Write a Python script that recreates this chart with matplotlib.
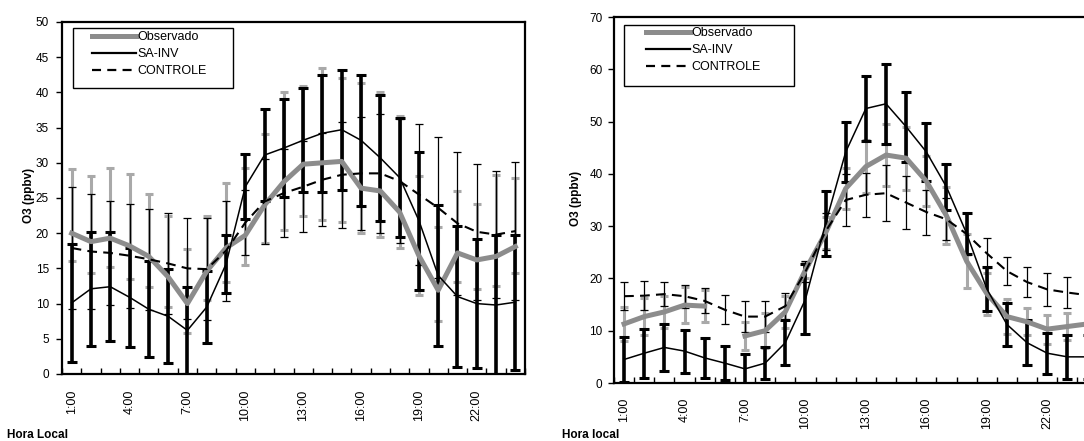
import numpy as np
import matplotlib
matplotlib.use("Agg")
import matplotlib.pyplot as plt
from matplotlib.lines import Line2D
from matplotlib.patches import Rectangle

plt.rcParams['font.family'] = ['Liberation Sans', 'DejaVu Sans']
plt.rcParams['lines.scale_dashes'] = False

# ---------------- data ----------------
hours = ["1:00", "2:00", "3:00", "4:00", "5:00", "6:00", "7:00", "8:00",
         "9:00", "10:00", "11:00", "12:00", "13:00", "14:00", "15:00", "16:00",
         "17:00", "18:00", "19:00", "20:00", "21:00", "22:00", "23:00", "24:00"]
shown_labels = ["1:00", "4:00", "7:00", "10:00", "13:00", "16:00", "19:00", "22:00"]
series_names = ["Observado", "SA-INV", "CONTROLE"]

# Left panel
obs_L = [20.0, 18.8, 19.3, 18.2, 16.7, 13.8, 10.0, 14.6, 17.9, 19.7, 24.0, 27.3,
         29.8, 30.0, 30.2, 26.4, 26.0, 23.0, 16.8, 11.9, 17.2, 16.2, 16.7, 18.1]
obs_lo_L = [16.0, 14.4, 15.2, 13.5, 12.4, 9.5, 5.8, 10.5, 13.1, 15.5, 18.6, 20.5,
            22.4, 21.9, 21.6, 20.0, 19.5, 17.9, 11.2, 7.5, 13.0, 12.1, 12.5, 14.3]
obs_hi_L = [29.1, 28.1, 29.3, 28.4, 25.6, 22.4, 17.8, 22.4, 27.1, 29.2, 34.1, 40.0,
            40.9, 43.4, 42.0, 41.4, 40.1, 36.6, 28.1, 20.9, 26.0, 24.2, 28.3, 27.9]
sa_L = [10.1, 12.1, 12.4, 10.9, 9.2, 8.2, 6.2, 9.5, 15.6, 26.6, 31.1, 32.1,
        33.2, 34.2, 34.7, 33.2, 30.7, 27.9, 21.8, 14.0, 11.0, 10.0, 9.8, 10.2]
sa_err_L = [8.4, 8.1, 7.7, 7.0, 6.8, 6.7, 6.2, 5.1, 4.1, 4.6, 6.5, 6.9,
            7.4, 8.3, 8.5, 9.3, 8.9, 8.5, 9.8, 10.0, 10.0, 9.2, 9.9, 9.6]
ctl_L = [17.9, 17.4, 17.2, 16.8, 16.3, 15.7, 15.0, 14.9, 17.5, 21.5, 24.5, 25.7,
         26.6, 27.6, 28.3, 28.5, 28.5, 27.4, 25.5, 23.6, 21.4, 20.2, 19.8, 20.3]
ctl_err_L = [8.7, 8.2, 7.4, 7.4, 7.2, 7.2, 7.2, 7.2, 7.1, 4.6, 6.0, 6.2,
             6.5, 6.6, 7.5, 8.0, 8.5, 8.8, 10.0, 10.0, 10.2, 9.7, 9.0, 9.8]

# Right panel
obs_R = [11.3, 12.7, 13.6, 14.9, 14.7, np.nan, 9.0, 10.0, 13.6, 21.6, 28.7, 37.2,
         41.4, 43.6, 43.0, 38.6, 32.0, 23.3, 17.1, 12.7, 11.7, 10.3, 10.8, 11.3]
obs_err_R = [3.2, 3.5, 3.0, 3.4, 3.0, np.nan, 2.6, 3.4, 3.0, 1.6, 3.0, 4.0,
             5.0, 6.0, 6.0, 4.8, 5.4, 5.2, 4.0, 3.3, 2.6, 2.8, 2.5, 2.5]
sa_R = [4.5, 5.7, 6.8, 6.1, 4.8, 3.8, 2.7, 3.8, 7.7, 16.0, 30.5, 44.2,
        52.5, 53.4, 49.0, 44.2, 37.5, 28.6, 18.0, 11.2, 7.7, 5.7, 5.0, 5.0]
sa_err_R = [4.3, 4.7, 4.5, 4.1, 3.8, 3.3, 2.8, 3.0, 4.3, 6.7, 6.3, 5.8,
            6.3, 7.7, 6.7, 5.6, 4.4, 3.9, 4.2, 4.1, 4.3, 3.9, 4.2, 4.2]
ctl_R = [16.6, 16.7, 17.0, 16.6, 15.7, 14.0, 12.7, 12.7, 14.7, 21.3, 29.0, 35.0,
         36.0, 36.3, 34.5, 32.7, 31.3, 28.5, 24.8, 21.4, 19.3, 17.9, 17.3, 16.8]
ctl_err_R = [2.7, 2.8, 2.3, 2.2, 2.4, 2.8, 2.9, 2.9, 2.5, 2.0, 3.5, 5.0,
             4.2, 5.4, 5.0, 4.3, 4.0, 4.0, 2.9, 2.7, 2.9, 3.2, 3.0, 3.0]

# ---------------- style ----------------
W, H = 1084, 441
GRAY_LINE = '#8c8c8c'
GRAY_BAR = '#a9a9a9'

fig = plt.figure(figsize=(W / 100, H / 100), dpi=100)


def fx(px):
    return px / W


def fy(py):
    return 1 - py / H


axL = fig.add_axes([fx(62), fy(374), 463 / W, 352 / H])
axR = fig.add_axes([fx(614), fy(383), 483.6 / W, 366 / H])

x = np.arange(1, len(hours) + 1)


def draw(ax, obs, obs_err, sa, sa_err, ctl, ctl_err, ymax, ystep, ypad, xpad):
    ax.errorbar(x, obs, yerr=obs_err, fmt='none', ecolor=GRAY_BAR,
                elinewidth=2.2, capsize=3.2, capthick=2.2, zorder=2)
    ax.errorbar(x, ctl, yerr=ctl_err, fmt='none', ecolor='black',
                elinewidth=0.9, capsize=3.0, capthick=0.9, zorder=3)
    ax.errorbar(x, sa, yerr=sa_err, fmt='none', ecolor='black',
                elinewidth=2.6, capsize=3.4, capthick=2.2, zorder=3)
    ax.plot(x, obs, color=GRAY_LINE, lw=3.6, zorder=4, solid_joinstyle='round')
    ax.plot(x, sa, color='black', lw=1.1, zorder=5)
    ax.plot(x, ctl, color='black', lw=1.5, dashes=(7, 4.5), zorder=5)

    ax.set_xlim(0.5, len(hours) + 0.5)
    ax.set_ylim(0, ymax)
    ax.set_yticks(np.arange(0, ymax + 0.1, ystep))
    ax.tick_params(axis='y', direction='out', length=4, width=1,
                   labelsize=8.5, pad=ypad)
    ax.set_xticks([x[hours.index(h)] for h in shown_labels])
    ax.set_xticklabels(shown_labels, rotation=90, fontsize=9, va='top')
    ax.tick_params(axis='x', which='major', length=0, pad=xpad)
    ax.set_xticks(np.arange(0.5, len(hours) + 1, 1), minor=True)
    ax.tick_params(axis='x', which='minor', direction='in', length=4, width=1)
    for s in ax.spines.values():
        s.set_linewidth(1.6)


draw(axL, obs_L, [np.subtract(obs_L, obs_lo_L), np.subtract(obs_hi_L, obs_L)],
     sa_L, sa_err_L, ctl_L, ctl_err_L, 50, 5, 5.5, 11.5)
draw(axR, obs_R, obs_err_R, sa_R, sa_err_R, ctl_R, ctl_err_R, 70, 10, 4.3, 10.8)

# axis labels
fig.text(fx(29), fy(195), "O3 (ppbv)", rotation=90, ha='center', va='center',
         fontsize=8.5, fontweight='bold')
fig.text(fx(576), fy(198), "O3 (ppbv)", rotation=90, ha='center', va='center',
         fontsize=8.5, fontweight='bold')
fig.text(fx(7), fy(438), "Hora Local", ha='left', va='baseline',
         fontsize=8.5, fontweight='bold')
fig.text(fx(562), fy(438), "Hora local", ha='left', va='baseline',
         fontsize=8.5, fontweight='bold')

# legends
handles = [Line2D([], [], color=GRAY_LINE, lw=3.6),
           Line2D([], [], color='black', lw=1.6),
           Line2D([], [], color='black', lw=1.6, dashes=(6.5, 4.5))]

for (bx0, by0, bx1, by1, hx, ty) in [(73, 28, 233, 88, 92, 31),
                                     (624, 25, 794, 86, 646, 27)]:
    fig.add_artist(Rectangle((fx(bx0), fy(by1)), (bx1 - bx0) / W, (by1 - by0) / H,
                             transform=fig.transFigure, facecolor='white',
                             edgecolor='black', lw=1.0, zorder=8))
    fig.legend(handles, series_names, loc='upper left',
               bbox_to_anchor=(fx(hx), fy(ty)), bbox_transform=fig.transFigure,
               frameon=False, fontsize=9, handlelength=3.5, handletextpad=0.15,
               labelspacing=0.42, borderpad=0, borderaxespad=0).set_zorder(9)

fig.savefig("out.png", dpi=100)
